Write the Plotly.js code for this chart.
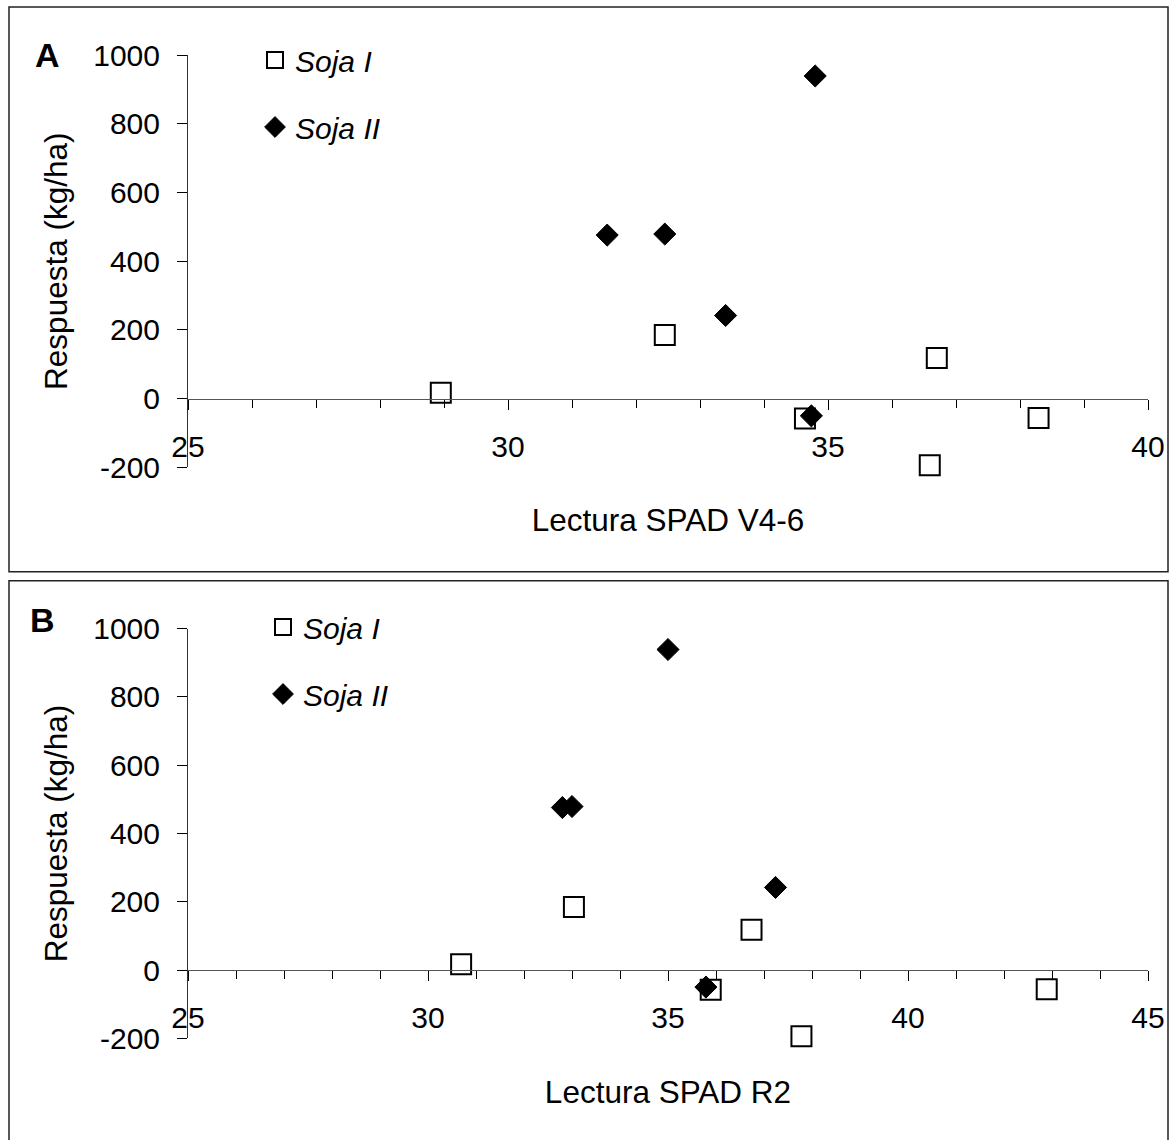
<!DOCTYPE html>
<html>
<head>
<meta charset="utf-8">
<script src="https://cdn.plot.ly/plotly-3.0.1.min.js"></script>
<style>
  html, body { margin: 0; padding: 0; background: #fff; }
  #chart { width: 1171px; height: 1140px; }
</style>
</head>
<body>
<div id="chart"></div>
<script>
// ---- Data ----
const seriesNames = ["Soja I", "Soja II"];
const panelLabels = ["A", "B"];
const xTitles = ["Lectura SPAD V4-6", "Lectura SPAD R2"];
const yTitle = "Respuesta (kg/ha)";

// Response (kg/ha)
const sojaI_y  = [17, 185, -58, 118, -194, -56];
const sojaII_y = [939, 476, 479, 242, -50];

// Panel A: SPAD reading V4-6
const sojaI_xA  = [28.95, 32.45, 34.64, 36.70, 36.59, 38.29];
const sojaII_xA = [34.80, 31.55, 32.45, 33.40, 34.74];

// Panel B: SPAD reading R2
const sojaI_xB  = [30.69, 33.04, 35.89, 36.74, 37.78, 42.89];
const sojaII_xB = [35.00, 32.80, 33.00, 37.24, 35.79];

// Tick labels
const yTickVals = [-200, 0, 200, 400, 600, 800, 1000];
const yTickText = ["-200", "0", "200", "400", "600", "800", "1000"];

const xRangeA = [25, 40];
const xRangeB = [25, 45];
const yRange = [-200, 1000];

// ---- Layout helpers ----
const W = 1171, H = 1140;
const FONT = "Liberation Sans, Arial, sans-serif";
const px = v => v / W;
const py = v => 1 - v / H;

const xDom = [px(188), px(1148)];
const yDomA = [py(467.4), py(55)];
const yDomB = [py(1038.3), py(628.7)];

// paper position of y = 0 on each panel (x-axis crosses at zero)
function zeroPos(dom) {
  return dom[0] + (0 - yRange[0]) / (yRange[1] - yRange[0]) * (dom[1] - dom[0]);
}

const squareMarker = { symbol: "square-open", size: 20, color: "#000", line: { color: "#000", width: 2 } };
const diamondMarker = { symbol: "diamond", size: 17, color: "#000", line: { color: "#000", width: 1 } };

const traces = [
  { type: "scatter", mode: "markers", name: seriesNames[0], x: sojaI_xA, y: sojaI_y,
    xaxis: "x", yaxis: "y", marker: squareMarker, legend: "legend", legendgroup: "a1", cliponaxis: false },
  { type: "scatter", mode: "markers", name: seriesNames[1], x: sojaII_xA, y: sojaII_y,
    xaxis: "x", yaxis: "y", marker: diamondMarker, legend: "legend", legendgroup: "a2", cliponaxis: false },
  { type: "scatter", mode: "markers", name: seriesNames[0], x: sojaI_xB, y: sojaI_y,
    xaxis: "x2", yaxis: "y2", marker: squareMarker, legend: "legend2", legendgroup: "b1", cliponaxis: false },
  { type: "scatter", mode: "markers", name: seriesNames[1], x: sojaII_xB, y: sojaII_y,
    xaxis: "x2", yaxis: "y2", marker: diamondMarker, legend: "legend2", legendgroup: "b2", cliponaxis: false }
];

function xAxis(range, dom, title) {
  return {
    domain: xDom, range: range, anchor: "free", position: zeroPos(dom),
    tick0: 25, dtick: 5, ticks: "outside", ticklen: 10, tickwidth: 1, tickcolor: "#000",
    minor: { dtick: 1, tick0: 25, ticks: "outside", ticklen: 8, tickwidth: 1, tickcolor: "#000" },
    showline: true, linecolor: "#555", linewidth: 1,
    showgrid: false, zeroline: false,
    ticklabelstandoff: 11,
    tickfont: { family: FONT, size: 30, color: "#000" },
    title: { text: title, font: { family: FONT, size: 31.5, color: "#000" }, standoff: 47 },
    fixedrange: true
  };
}
function yAxis(dom, anchorX) {
  return {
    domain: dom, range: yRange, anchor: anchorX,
    tickmode: "array", tickvals: yTickVals, ticktext: yTickText,
    ticks: "outside", ticklen: 10, tickwidth: 1, tickcolor: "#000",
    showline: true, linecolor: "#333", linewidth: 1,
    showgrid: false, zeroline: false,
    ticklabelstandoff: 11,
    tickfont: { family: FONT, size: 30, color: "#000" },
    title: { text: yTitle, font: { family: FONT, size: 31.5, color: "#000" }, standoff: 16 },
    fixedrange: true
  };
}

function legendCfg(xPx, yPx) {
  return {
    x: px(xPx), y: py(yPx), xanchor: "left", yanchor: "top",
    bgcolor: "rgba(0,0,0,0)", borderwidth: 0,
    font: { family: FONT, size: 30, color: "#000", style: "italic" },
    tracegroupgap: 25, itemclick: false, itemdoubleclick: false
  };
}

const layout = {
  width: W, height: H,
  margin: { l: 0, r: 0, t: 0, b: 0 },
  paper_bgcolor: "#fff", plot_bgcolor: "rgba(0,0,0,0)",
  showlegend: true,
  xaxis: xAxis(xRangeA, yDomA, xTitles[0]),
  yaxis: yAxis(yDomA, "x"),
  xaxis2: xAxis(xRangeB, yDomB, xTitles[1]),
  yaxis2: yAxis(yDomB, "x2"),
  legend: legendCfg(255, 34),
  legend2: legendCfg(263, 601),
  shapes: [
    { type: "rect", xref: "paper", yref: "paper", x0: px(9), x1: px(1168), y0: py(571.7), y1: py(7),
      line: { color: "#222", width: 1.5 }, fillcolor: "rgba(0,0,0,0)" },
    { type: "rect", xref: "paper", yref: "paper", x0: px(9), x1: px(1168), y0: py(1150), y1: py(580.7),
      line: { color: "#222", width: 1.5 }, fillcolor: "rgba(0,0,0,0)" }
  ],
  annotations: [
    { text: "<b>" + panelLabels[0] + "</b>", xref: "paper", yref: "paper", x: px(47.5), y: py(55),
      xanchor: "center", yanchor: "middle", showarrow: false,
      font: { family: FONT, size: 34, color: "#000" } },
    { text: "<b>" + panelLabels[1] + "</b>", xref: "paper", yref: "paper", x: px(42.5), y: py(620),
      xanchor: "center", yanchor: "middle", showarrow: false,
      font: { family: FONT, size: 34, color: "#000" } }
  ]
};

Plotly.newPlot("chart", traces, layout, { staticPlot: true, displayModeBar: false });
</script>
</body>
</html>
